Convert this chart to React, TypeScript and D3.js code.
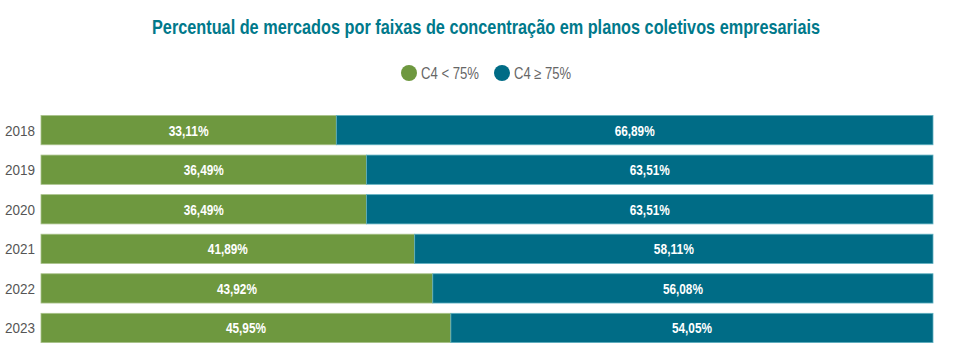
import React from "react";
import * as d3 from "d3";

const years = ["2018", "2019", "2020", "2021", "2022", "2023"];
const below75 = [33.11, 36.49, 36.49, 41.89, 43.92, 45.95];
const above75 = [66.89, 63.51, 63.51, 58.11, 56.08, 54.05];
const seriesNames = ["C4 < 75%", "C4 \u2265 75%"];
const colors = ["#6e983f", "#006c86"];

const width = 960;
const height = 353;
const font = "'Liberation Sans', Arial, sans-serif";

const fmt = (v: number) => v.toFixed(2).replace(".", ",") + "%";

export default function App() {
  const x = d3.scaleLinear().domain([0, 100]).range([41, 933]);
  const y = d3
    .scaleBand()
    .domain(years)
    .range([115.5, 342.6])
    .paddingInner(0.26)
    .paddingOuter(0);

  return (
    <svg
      width={width}
      height={height}
      style={{ position: "absolute", left: 0, top: 0, background: "#fff" }}
    >
      <text
        x={486}
        y={34}
        textAnchor="middle"
        fill="#00798b"
        fontFamily={font}
        fontWeight="bold"
        fontSize={20.5}
        textLength={668}
        lengthAdjust="spacingAndGlyphs"
      >
        Percentual de mercados por faixas de concentração em planos coletivos empresariais
      </text>

      {/* legend */}
      <g fontFamily={font} fontSize={16} fill="#666">
        <circle cx={409} cy={73} r={8} fill={colors[0]} />
        <text x={421} y={79} textLength={58} lengthAdjust="spacingAndGlyphs">
          {seriesNames[0]}
        </text>
        <circle cx={502} cy={73} r={8} fill={colors[1]} />
        <text x={514} y={79} textLength={57} lengthAdjust="spacingAndGlyphs">
          {seriesNames[1]}
        </text>
      </g>

      {years.map((yr, i) => {
        const y0 = y(yr) as number;
        const bh = y.bandwidth();
        const xg = x(below75[i]);
        const xe = x(below75[i] + above75[i]);
        return (
          <g key={yr}>
            <text
              x={35}
              y={y0 + bh / 2 + 5.5}
              textAnchor="end"
              fontFamily={font}
              fontSize={15.5}
              fill="#555"
              textLength={30}
              lengthAdjust="spacingAndGlyphs"
            >
              {yr}
            </text>
            <rect
              x={x(0)}
              y={y0}
              width={xg - x(0)}
              height={bh}
              fill={colors[0]}
              stroke="#a9c28a"
              strokeWidth={0.8}
            />
            <rect
              x={xg}
              y={y0}
              width={xe - xg}
              height={bh}
              fill={colors[1]}
              stroke="#5fb0c0"
              strokeWidth={0.8}
            />
            <text
              x={(x(0) + xg) / 2}
              y={y0 + bh / 2 + 5.5}
              textAnchor="middle"
              fontFamily={font}
              fontWeight="bold"
              fontSize={15.5}
              fill="#fff"
              textLength={40}
              lengthAdjust="spacingAndGlyphs"
            >
              {fmt(below75[i])}
            </text>
            <text
              x={(xg + xe) / 2}
              y={y0 + bh / 2 + 5.5}
              textAnchor="middle"
              fontFamily={font}
              fontWeight="bold"
              fontSize={15.5}
              fill="#fff"
              textLength={40}
              lengthAdjust="spacingAndGlyphs"
            >
              {fmt(above75[i])}
            </text>
          </g>
        );
      })}
    </svg>
  );
}
